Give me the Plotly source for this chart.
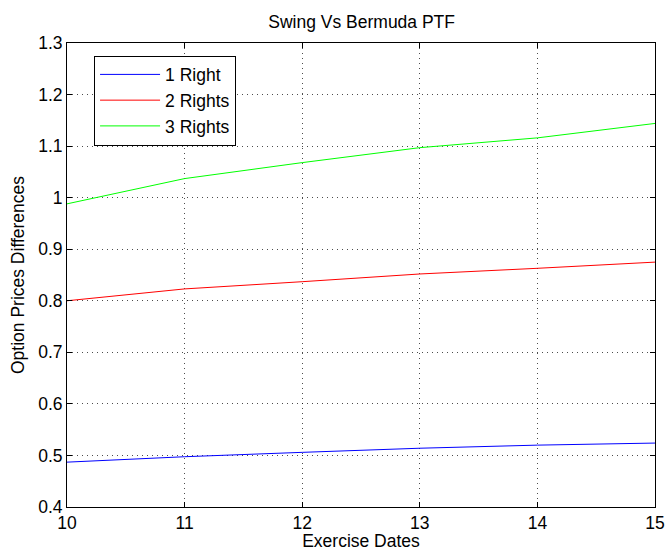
import plotly.graph_objects as go

dates = [10, 11, 12, 13, 14, 15]
one_right = [0.487, 0.4975, 0.506, 0.514, 0.520, 0.524]
two_rights = [0.800, 0.823, 0.837, 0.852, 0.863, 0.875]
three_rights = [0.988, 1.037, 1.068, 1.097, 1.116, 1.144]

y_ticks = [0.4, 0.5, 0.6, 0.7, 0.8, 0.9, 1.0, 1.1, 1.2, 1.3]
y_ticktext = ["0.4", "0.5", "0.6", "0.7", "0.8", "0.9", "1", "1.1", "1.2", "1.3"]

series = [
    ("1 Right", one_right, "#0000ff"),
    ("2 Rights", two_rights, "#ff0000"),
    ("3 Rights", three_rights, "#00ff00"),
]

fig = go.Figure()
for i, (name, vals, col) in enumerate(series):
    fig.add_trace(go.Scatter(x=dates, y=vals, mode="lines", name=name,
                             line=dict(color=col, width=1), legendgroup=f"g{i}"))

font_family = "Liberation Sans, Arial, sans-serif"
FS = 17.5
axis_common = dict(
    showline=True, linecolor="black", linewidth=1, mirror="ticks",
    ticks="inside", ticklen=5, tickcolor="black",
    showgrid=True, gridcolor="rgba(0,0,0,0.7)", griddash="1px,4px", gridwidth=1,
    zeroline=False, automargin=False,
    tickfont=dict(size=FS, color="black", family=font_family),
)

fig.update_layout(
    width=666, height=551,
    margin=dict(l=67, r=11, t=43, b=44),
    paper_bgcolor="white", plot_bgcolor="white",
    font=dict(family=font_family, color="black"),
    title=dict(text="Swing Vs Bermuda PTF", x=0.543, xanchor="center", y=1 - 22 / 551, yanchor="middle",
               font=dict(size=FS, color="black")),
    xaxis=dict(range=[10, 15], tickmode="array", tickvals=dates,
               title=dict(text="Exercise Dates", font=dict(size=FS), standoff=0), **axis_common),
    yaxis=dict(range=[0.4, 1.3], tickmode="array", tickvals=y_ticks, ticktext=y_ticktext,
               title=dict(text="Option Prices Differences", font=dict(size=FS), standoff=9), **axis_common),
    legend=dict(x=0.046, y=0.973, xanchor="left", yanchor="top",
                bordercolor="black", borderwidth=1, bgcolor="white", itemwidth=60,
                font=dict(size=FS, color="black"), tracegroupgap=0, traceorder="grouped"),
    showlegend=True,
)

fig.write_html("out.html", config={"displayModeBar": False},
               post_script="document.body.style.margin='0';document.body.style.overflow='hidden';")
